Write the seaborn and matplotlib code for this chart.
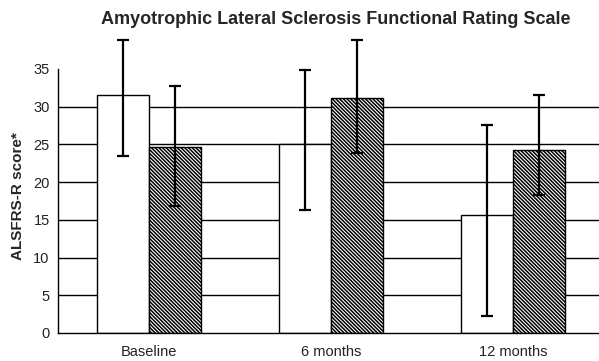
#--> Importing required libraries
import pandas as pd
import matplotlib
matplotlib.use("Agg")
import matplotlib.pyplot as plt
import seaborn as sns

#--> Data
times = ["Baseline", "6 months", "12 months"]
groups = ["A", "B"]
group_a = [31.5, 25.1, 15.7]
group_a_lo = [23.5, 16.3, 2.2]
group_a_hi = [38.9, 34.9, 27.6]
group_b = [24.7, 31.1, 24.2]
group_b_lo = [16.8, 23.9, 18.3]
group_b_hi = [32.8, 38.9, 31.6]

df = pd.DataFrame({
    "time": times * 2,
    "group": [groups[0]] * 3 + [groups[1]] * 3,
    "score": group_a + group_b,
    "lo": group_a_lo + group_b_lo,
    "hi": group_a_hi + group_b_hi,
})

sns.set_style("white")
plt.rcParams["font.family"] = ["Liberation Sans", "DejaVu Sans"]
plt.rcParams["hatch.linewidth"] = 1.1

fig = plt.figure(figsize=(5.99, 3.61), dpi=100)
W, H = 599, 361
ax = fig.add_axes([58 / W, 28 / H, (604 - 58) / W, (333 - 69) / H])

sns.barplot(data=df, x="time", y="score", hue="group", order=times,
            hue_order=groups, palette=["white", "white"], width=0.572,
            edgecolor="black", linewidth=1.0, errorbar=None, legend=False,
            saturation=1, ax=ax, zorder=2)

#-> hatch the second series and add error bars
bar_sets = list(ax.containers)
for i, bars in enumerate(bar_sets):
    sub = df[df["group"] == groups[i]].set_index("time").loc[times]
    for bar, (_, row) in zip(bars, sub.iterrows()):
        if i == 1:
            bar.set_hatch("\\" * 9)
        xc = bar.get_x() + bar.get_width() / 2
        ax.errorbar(xc, row["score"],
                    yerr=[[row["score"] - row["lo"]], [row["hi"] - row["score"]]],
                    fmt="none", ecolor="black", elinewidth=1.6, capsize=4.6,
                    capthick=1.6, clip_on=False, zorder=4)

#-> gridlines behind bars
ax.hlines([5, 10, 15, 20, 25, 30], -0.5, 2.5, colors="black",
          linewidth=1.0, zorder=0)

ax.set_xlim(-0.5, 2.5)
ax.set_ylim(0, 35)
ax.set_yticks(range(0, 36, 5))
ax.set_xticks([0.5, 1.5], minor=True)
ax.set_xticks([0, 1, 2])
ax.set_xticklabels(times, fontsize=10.5)
ax.tick_params(axis="x", which="major", length=0, pad=9)
ax.tick_params(axis="x", which="minor", length=4, width=1, color="black")
ax.tick_params(axis="y", length=5, width=1, color="black", labelsize=10.5,
               pad=1, labelcolor="#222222")
ax.tick_params(axis="x", labelcolor="#222222")

for s in ["top", "right"]:
    ax.spines[s].set_visible(False)
for s in ["left", "bottom"]:
    ax.spines[s].set_color("black")
    ax.spines[s].set_linewidth(1.0)

ax.set_xlabel("")
ax.set_ylabel("ALSFRS-R score*", fontsize=11, fontweight="bold", labelpad=5)
ax.yaxis.set_label_coords(-33 / (604 - 58), (333 - 196) / (333 - 69))
fig.text(336 / W, 1 - 20 / H, "Amyotrophic Lateral Sclerosis Functional Rating Scale",
         ha="center", va="center", fontsize=13, fontweight="bold")

fig.savefig("out.png", dpi=100)
